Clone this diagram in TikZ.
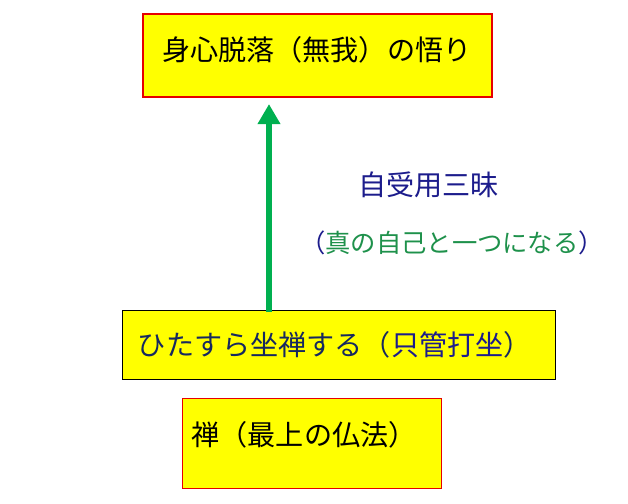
\documentclass[tikz,border=0pt]{standalone}
\usepackage{fontspec}
\setmainfont{Noto Sans CJK JP}
\usetikzlibrary{positioning,arrows.meta,calc}
\definecolor{BoxYellow}{RGB}{255,255,0}
\definecolor{BoxRed}{RGB}{230,0,0}
\definecolor{DeepNavy}{RGB}{28,28,140}
\definecolor{SlateNavy}{RGB}{22,40,96}
\definecolor{ZenGreen}{RGB}{30,145,75}
\definecolor{ArrowGreen}{RGB}{0,176,80}

\begin{document}
\begin{tikzpicture}[font=\fontsize{20}{24}\selectfont, every node/.style={align=center}]
\tikzset{
  stage/.style={draw, fill=BoxYellow, inner sep=0pt},
  redstage/.style={stage, draw=BoxRed},
  label/.style={inner sep=0pt},
  rise/.style={-{Triangle[length=5mm,width=5.4mm]}, line width=4.4pt, ArrowGreen}
}
  \useasboundingbox (0,0) rectangle (15.7,12.575);
  \def\ax{6.725}

  % boxes
  \node[redstage, line width=1.5pt, minimum width=8.725cm, minimum height=2.075cm] (satori) at (7.9375,11.1875) {};
  \node[stage, line width=0.6pt, minimum width=10.825cm, minimum height=1.725cm] (shikan) at (8.4625,3.9625) {};
  \node[redstage, line width=0.7pt, minimum width=6.475cm, minimum height=2.25cm] (zen) at (7.7875,1.5) {};

  % texts
  \node[label] (satoritext) at (7.92,11.325) {身心脱落（無我）の悟り};
  \node[label, SlateNavy] (shikantext) at (8.37,3.95) {ひたすら坐禅する（\textcolor{DeepNavy}{只管打坐}）};
  \node[label] (zentext) at (7.6,1.7) {禅（最上の仏法）};
  \node[label, DeepNavy] (jijuyu) at (10.71,7.96) {自受用三昧};
  \node[label, font=\fontsize{18}{22}\selectfont, ZenGreen] (jiko) at (11.3,6.51)
    {\textcolor{DeepNavy}{（}真の自己と一つになる\textcolor{DeepNavy}{）}};

  % arrow
  \draw[rise, shorten <=-0.05cm, shorten >=0.15cm] (shikan.north -| \ax,0) -- (satori.south -| \ax,0);
\end{tikzpicture}
\end{document}
